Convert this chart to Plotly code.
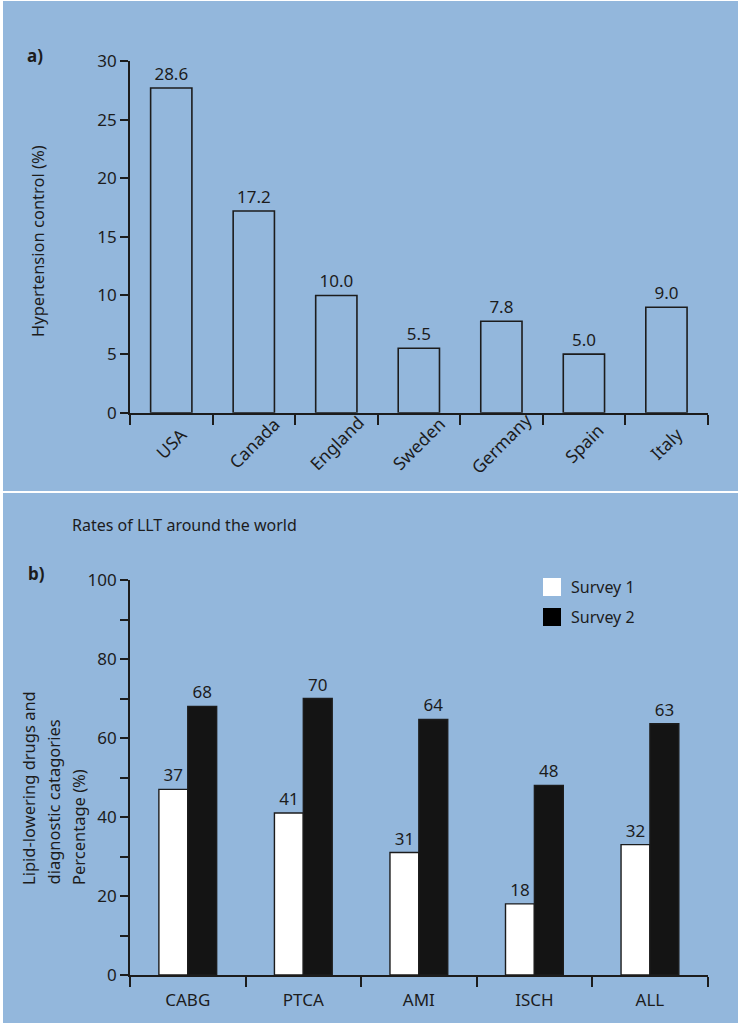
import plotly.graph_objects as go

# ---------------- data ----------------
countries = ["USA", "Canada", "England", "Sweden", "Germany", "Spain", "Italy"]
htn_heights = [27.7, 17.2, 10.0, 5.5, 7.8, 5.0, 9.0]
htn_labels = ["28.6", "17.2", "10.0", "5.5", "7.8", "5.0", "9.0"]

categories = ["CABG", "PTCA", "AMI", "ISCH", "ALL"]
survey1_heights = [47, 41, 31, 18, 33]
survey1_labels = ["37", "41", "31", "18", "32"]
survey2_heights = [68, 70, 64.7, 48, 63.6]
survey2_labels = ["68", "70", "64", "48", "63"]

ytitle_b_lines = ["Lipid-lowering drugs and", "diagnostic catagories", "Percentage (%)"]

W, H = 738, 1023
BG = "rgb(147,183,220)"
INK = "#1c1c1c"
FONT = "Noto Sans"


def px(x):
    return x / W


def py(y):
    return 1 - y / H


fig = go.Figure()

fig.add_trace(go.Bar(
    x=countries, y=htn_heights, text=htn_labels, textposition="outside",
    textfont=dict(size=17, color=INK, family=FONT), cliponaxis=False,
    marker=dict(color="rgba(0,0,0,0)", line=dict(color=INK, width=1.6)),
    xaxis="x", yaxis="y", showlegend=False, hoverinfo="x+y"))

fig.add_trace(go.Bar(
    x=categories, y=survey1_heights, text=survey1_labels, textposition="outside",
    name="Survey 1",
    textfont=dict(size=17, color=INK, family=FONT), cliponaxis=False,
    marker=dict(color="white", line=dict(color=INK, width=1.4)),
    xaxis="x2", yaxis="y2", showlegend=False))

fig.add_trace(go.Bar(
    x=categories, y=survey2_heights, text=survey2_labels, textposition="outside",
    name="Survey 2",
    textfont=dict(size=17, color=INK, family=FONT), cliponaxis=False,
    marker=dict(color="#141414", line=dict(color=INK, width=1.4)),
    xaxis="x2", yaxis="y2", showlegend=False))

axis_common = dict(showline=True, linecolor=INK, linewidth=1.6, showgrid=False,
                   zeroline=False, ticks="outside", tickcolor=INK, tickwidth=1.6,
                   automargin=False,
                   tickfont=dict(size=17, color=INK, family=FONT))

fig.update_layout(
    width=W, height=H, margin=dict(l=0, r=0, t=0, b=0, pad=0, autoexpand=False),
    paper_bgcolor="white", plot_bgcolor="rgba(0,0,0,0)",
    font=dict(family=FONT, color=INK),
    barmode="group", bargap=0.5, bargroupgap=0,
    xaxis=dict(domain=[px(130), px(707.7)], anchor="y", type="category",
               tickson="boundaries", ticklen=10, showticklabels=False,
               **axis_common),
    yaxis=dict(domain=[py(412.7), py(61)], anchor="x", range=[0, 30],
               tickvals=[0, 5, 10, 15, 20, 25, 30], ticklen=8, **axis_common),
    xaxis2=dict(domain=[px(130), px(707.7)], anchor="y2", type="category",
                tickson="boundaries", ticklen=10, ticklabelstandoff=9,
                **axis_common),
    yaxis2=dict(domain=[py(975), py(580)], anchor="x2", range=[0, 100],
                tickvals=[0, 20, 40, 60, 80, 100], ticklen=8,
                minor=dict(tickvals=[10, 30, 50, 70, 90], ticks="outside",
                           ticklen=8, tickcolor=INK, tickwidth=1.6),
                **axis_common),
)

shapes = [
    dict(type="rect", xref="paper", yref="paper", x0=px(3), x1=1, y0=py(491), y1=py(1),
         fillcolor=BG, line=dict(width=0), layer="below"),
    dict(type="rect", xref="paper", yref="paper", x0=px(3), x1=1, y0=0, y1=py(493),
         fillcolor=BG, line=dict(width=0), layer="below"),
    # legend swatches
    dict(type="rect", xref="paper", yref="paper", x0=px(543), x1=px(561), y0=py(596), y1=py(578),
         fillcolor="white", line=dict(width=0)),
    dict(type="rect", xref="paper", yref="paper", x0=px(543), x1=px(561), y0=py(626), y1=py(608),
         fillcolor="black", line=dict(width=0)),
]
fig.update_layout(shapes=shapes)

ann = [
    dict(text="<b>a)</b>", x=px(25), y=py(56), xanchor="left", yanchor="middle", font=dict(size=17)),
    dict(text="<b>b)</b>", x=px(26), y=py(573), xanchor="left", yanchor="middle", font=dict(size=17)),
    dict(text="Rates of LLT around the world", x=px(70), y=py(525), xanchor="left", yanchor="middle",
         font=dict(size=16)),
    dict(text="Hypertension control (%)", x=px(37), y=py(241), xanchor="center", yanchor="middle",
         textangle=-90, font=dict(size=16.5)),
    dict(text="Survey 1", x=px(569), y=py(587), xanchor="left", yanchor="middle", font=dict(size=16)),
    dict(text="Survey 2", x=px(569), y=py(617), xanchor="left", yanchor="middle", font=dict(size=16)),
]
for i, line in enumerate(ytitle_b_lines):
    ann.append(dict(text=line, x=px(28 + 25 * i), y=py(887), xanchor="center", yanchor="bottom",
                    textangle=-90, font=dict(size=16.5)))
for a in ann:
    a.update(xref="paper", yref="paper", showarrow=False)

# rotated category labels for panel a, centred under each category
for c in countries:
    ann.append(dict(text=c, x=c, xref="x", y=py(443), yref="paper", showarrow=False,
                    textangle=-45, xanchor="center", yanchor="middle", font=dict(size=17.5)))

for a in ann:
    a["font"].update(color=INK, family=FONT)
fig.update_layout(annotations=ann)

fig.write_html("out.html", config={"displayModeBar": False},
               post_script="document.body.style.margin='0';document.body.style.overflow='hidden';")
